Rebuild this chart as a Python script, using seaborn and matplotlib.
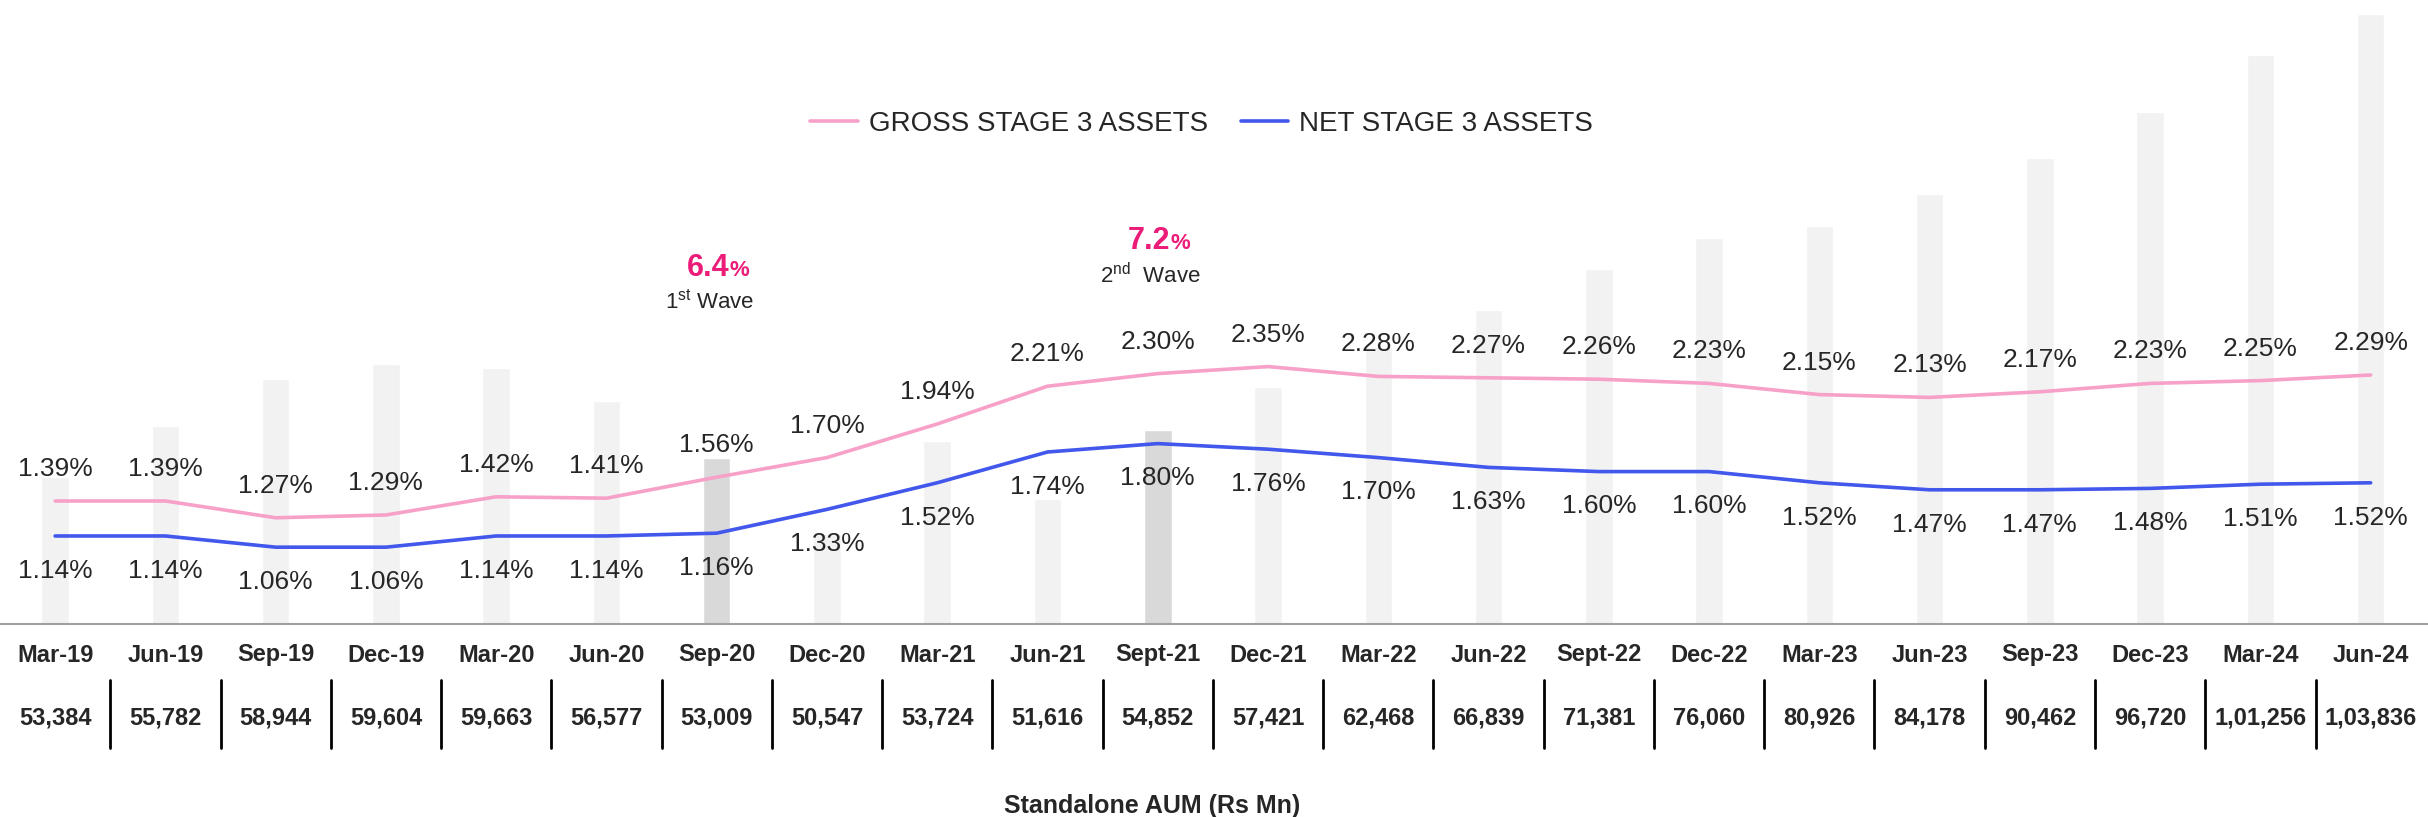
import numpy as np
import pandas as pd
import seaborn as sns
import matplotlib.pyplot as plt
from matplotlib import transforms

quarters = ["Mar-19", "Jun-19", "Sep-19", "Dec-19", "Mar-20", "Jun-20", "Sep-20",
            "Dec-20", "Mar-21", "Jun-21", "Sept-21", "Dec-21", "Mar-22", "Jun-22",
            "Sept-22", "Dec-22", "Mar-23", "Jun-23", "Sep-23", "Dec-23", "Mar-24", "Jun-24"]
gross_stage3 = [1.39, 1.39, 1.27, 1.29, 1.42, 1.41, 1.56, 1.70, 1.94, 2.21, 2.30,
                2.35, 2.28, 2.27, 2.26, 2.23, 2.15, 2.13, 2.17, 2.23, 2.25, 2.29]
net_stage3 = [1.14, 1.14, 1.06, 1.06, 1.14, 1.14, 1.16, 1.33, 1.52, 1.74, 1.80,
              1.76, 1.70, 1.63, 1.60, 1.60, 1.52, 1.47, 1.47, 1.48, 1.51, 1.52]
aum_labels = ["53,384", "55,782", "58,944", "59,604", "59,663", "56,577", "53,009",
              "50,547", "53,724", "51,616", "54,852", "57,421", "62,468", "66,839",
              "71,381", "76,060", "80,926", "84,178", "90,462", "96,720", "1,01,256",
              "1,03,836"]
# background bars are not drawn to scale in the source, heights read off the picture (% of plot height)
bar_height = [23.6, 31.7, 39.3, 41.7, 41.0, 35.7, 26.6, 14.4, 29.3, 20.0, 31.1,
              38.0, 44.4, 50.3, 56.9, 61.9, 63.8, 68.9, 74.7, 82.1, 91.2, 97.8]
wave_quarters = ["Sep-20", "Sept-21"]
wave_values = ["6.4", "7.2"]
wave_names = [r"1$^{\mathrm{st}}$ Wave", r"2$^{\mathrm{nd}}$  Wave"]

PINK = "#F7A1C8"
BLUE = "#4257EC"
HOT = "#EC1C79"

sns.set_style("white")
plt.rcParams["font.family"] = ["Liberation Sans", "DejaVu Sans"]
plt.rcParams["mathtext.fontset"] = "custom"
plt.rcParams["mathtext.rm"] = "Liberation Sans"

df = pd.DataFrame({"quarter": quarters, "bar": bar_height,
                   "gross": gross_stage3, "net": net_stage3})
df["x"] = np.arange(len(df))

fig = plt.figure(figsize=(24.28, 8.17), dpi=100)
ax = fig.add_axes([0, 0.2362, 1, 0.7638])

bar_colors = ["#D9D9D9" if q in wave_quarters else "#F2F2F2" for q in quarters]
sns.barplot(data=df, x="quarter", y="bar", hue="quarter", palette=bar_colors,
            width=0.25, legend=False, ax=ax, saturation=1)
ax.set_ylim(0, 100)

ax2 = ax.twinx()
sns.lineplot(data=df, x="x", y="gross", color=PINK, lw=2.6, ax=ax2,
             label="GROSS STAGE 3 ASSETS")
sns.lineplot(data=df, x="x", y="net", color=BLUE, lw=2.6, ax=ax2,
             label="NET STAGE 3 ASSETS")
ax2.set_ylim(0.511, 4.969)

for a in (ax, ax2):
    a.set_xlim(-0.5, 21.52)
    a.set_xlabel("")
    a.set_ylabel("")
    a.set_xticks([])
    a.set_yticks([])
    for s in ("top", "left", "right"):
        a.spines[s].set_visible(False)
ax.spines["bottom"].set_color("#A0A0A0")
ax.spines["bottom"].set_linewidth(1.5)
ax2.spines["bottom"].set_visible(False)

for i, row in df.iterrows():
    ax2.annotate(f"{row.gross:.2f}%", (row.x, row.gross), xytext=(0, 23),
                 textcoords="offset points", ha="center", va="center", fontsize=19)
    ax2.annotate(f"{row.net:.2f}%", (row.x, row.net), xytext=(0, -25),
                 textcoords="offset points", ha="center", va="center", fontsize=19)

leg = ax2.legend(loc="center", bbox_to_anchor=(0.495, 1 - 124 / 624), ncol=2,
                 frameon=False, fontsize=20, handlelength=1.7, handletextpad=0.4,
                 columnspacing=1.2)

# wave annotations
tr = transforms.blended_transform_factory(ax.transData, fig.transFigure)
for q, val, name in zip(wave_quarters, wave_values, wave_names):
    xi = quarters.index(q)
    y_val = 1 - (276 if xi == 6 else 249) / 817
    y_name = 1 - (302 if xi == 6 else 276) / 817
    ax.text(xi, y_val, val, transform=transforms.offset_copy(tr, fig=fig, x=9, units="points"),
            ha="right", va="baseline", fontsize=22, fontweight="bold", color=HOT)
    ax.text(xi, y_val, "%", transform=transforms.offset_copy(tr, fig=fig, x=9, units="points"),
            ha="left", va="baseline", fontsize=16, fontweight="bold", color=HOT)
    ax.text(xi, y_name, name, transform=transforms.offset_copy(tr, fig=fig, x=-5, units="points"),
            ha="center", va="center", fontsize=16)

# table under the axis
for i, (q, v) in enumerate(zip(quarters, aum_labels)):
    ax.text(i, 1 - 655 / 817, q, transform=tr, ha="center", va="center",
            fontsize=17, fontweight="bold")
    ax.text(i, 1 - 718 / 817, v, transform=tr, ha="center", va="center",
            fontsize=17, fontweight="bold")
for i in range(len(quarters) - 1):
    ax.plot([i + 0.5, i + 0.5], [1 - 680 / 817, 1 - 748 / 817], transform=tr,
            color="black", lw=2, clip_on=False)

fig.text(1152 / 2428, 1 - 806 / 817, "Standalone AUM (Rs Mn)", ha="center",
         va="center", fontsize=18, fontweight="bold")

fig.savefig("out.png", dpi=100)
